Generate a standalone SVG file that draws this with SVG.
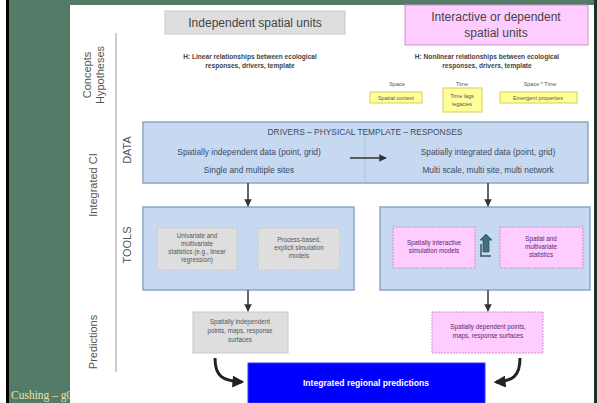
<svg xmlns="http://www.w3.org/2000/svg" width="597" height="403" viewBox="0 0 597 403">
<defs>
<marker id="ah" viewBox="0 0 10 10" refX="9" refY="5" markerWidth="5" markerHeight="5" orient="auto-start-reverse"><path d="M0,0 L10,5 L0,10 z" fill="#333"/></marker>
<marker id="ah2" viewBox="0 0 10 10" refX="8" refY="5" markerWidth="4" markerHeight="4" orient="auto"><path d="M0,0 L10,5 L0,10 z" fill="#222"/></marker>
<style>
text{font-family:"Liberation Sans",Arial,sans-serif;fill:#404040}
.lab{font-size:11px;fill:#555}
.head{font-size:12px;fill:#444}
.hyp{font-size:6.6px;font-weight:bold;fill:#444}
.small{font-size:5.5px;fill:#555}
.data{font-size:8.4px;fill:#3d4a66}
.tool{font-size:6.3px;fill:#555}
.ptool{font-size:6.3px;fill:#5a2a6a}
.blue{fill:#c6d9f1;stroke:#8ca5c6;stroke-width:1.5}
.gray{fill:#dedede;stroke:#c8c8c8;stroke-width:1}
.pink{fill:#ffccff;stroke:#c993c9;stroke-width:1}
.yel{fill:#ffff99;stroke:#d8cc55;stroke-width:1}
.conn{stroke:#333;stroke-width:1.5;fill:none}
</style>
</defs>
<rect width="597" height="403" fill="#537b67"/>
<rect x="0" y="0" width="6" height="403" fill="#ffffff"/>
<rect x="6" y="0" width="3" height="403" fill="#000"/>
<rect x="594" y="0" width="3" height="403" fill="#1e3328"/>
<text x="11" y="399" style="font-family:'Liberation Serif',serif;font-size:11.5px;fill:#e8e2b0">Cushing – g0</text>
<rect x="70" y="5" width="524" height="398" fill="#ffffff"/>

<g id="axis">
<line x1="116" y1="33" x2="116" y2="372" stroke="#999" stroke-width="1"/>
<text class="lab" transform="translate(91,75) rotate(-90)" text-anchor="middle">Concepts</text>
<text class="lab" transform="translate(104,75) rotate(-90)" text-anchor="middle">Hypotheses</text>
<text class="lab" transform="translate(97,185) rotate(-90)" text-anchor="middle">Integrated CI</text>
<text class="lab" transform="translate(131,150) rotate(-90)" text-anchor="middle">DATA</text>
<text class="lab" transform="translate(131,245) rotate(-90)" text-anchor="middle">TOOLS</text>
<text class="lab" transform="translate(97,342) rotate(-90)" text-anchor="middle">Predictions</text>
</g>

<g id="independent">
<rect class="gray" x="165" y="11" width="180" height="23"/>
<text class="head" x="255" y="27" text-anchor="middle">Independent spatial units</text>
</g>
<g id="dependent">
<rect class="pink" x="405" y="5" width="183" height="40"/>
<text class="head" x="496" y="21" text-anchor="middle">Interactive or dependent</text>
<text class="head" x="496" y="37" text-anchor="middle">spatial units</text>
</g>
<g id="hyp-linear">
<text class="hyp" x="250" y="59" text-anchor="middle">H: Linear relationships between ecological</text>
<text class="hyp" x="250" y="68" text-anchor="middle">responses, drivers, template</text>
</g>
<g id="hyp-nonlinear">
<text class="hyp" x="487" y="59" text-anchor="middle">H: Nonlinear relationships between ecological</text>
<text class="hyp" x="487" y="68" text-anchor="middle">responses, drivers, template</text>
</g>
<g id="spatial-context">
<text class="small" x="397" y="86" text-anchor="middle">Space</text>
<rect class="yel" x="370" y="92" width="52" height="11"/>
<text class="small" x="396" y="99.5" text-anchor="middle">Spatial context</text>
</g>
<g id="time-lags">
<text class="small" x="462" y="86" text-anchor="middle">Time</text>
<rect class="yel" x="443" y="88" width="39" height="24"/>
<text class="small" x="462" y="98" text-anchor="middle">Time lags</text>
<text class="small" x="462" y="106" text-anchor="middle">legacies</text>
</g>
<g id="emergent">
<text class="small" x="540" y="86" text-anchor="middle">Space * Time</text>
<rect class="yel" x="500" y="92" width="77" height="11"/>
<text class="small" x="538" y="99.5" text-anchor="middle">Emergent properties</text>
</g>

<g id="data">
<rect class="blue" x="143" y="122" width="445" height="61"/>
<line x1="365" y1="133" x2="365" y2="183" stroke="#a8bcd6" stroke-width="0.8"/>
<text class="data" x="365" y="135" text-anchor="middle">DRIVERS – PHYSICAL TEMPLATE – RESPONSES</text>
<text class="data" x="249" y="155" text-anchor="middle">Spatially independent data (point, grid)</text>
<text class="data" x="249" y="173" text-anchor="middle">Single and multiple sites</text>
<text class="data" x="488" y="155" text-anchor="middle">Spatially integrated data (point, grid)</text>
<text class="data" x="488" y="173" text-anchor="middle">Multi scale, multi site, multi network</text>
</g>

<g id="tools-left">
<rect class="blue" x="143" y="207" width="211" height="83"/>
<rect class="gray" x="157" y="228" width="80" height="42" stroke-dasharray="2,1"/>
<text class="tool" x="197" y="238" text-anchor="middle">Univariate and</text>
<text class="tool" x="197" y="246" text-anchor="middle">multivariate</text>
<text class="tool" x="197" y="254" text-anchor="middle">statistics (e.g., linear</text>
<text class="tool" x="197" y="262" text-anchor="middle">regression)</text>
<rect class="gray" x="258" y="228" width="82" height="42" stroke-dasharray="2,1"/>
<text class="tool" x="299" y="242" text-anchor="middle">Process-based,</text>
<text class="tool" x="299" y="250" text-anchor="middle">explicit simulation</text>
<text class="tool" x="299" y="258" text-anchor="middle">models</text>
</g>

<g id="tools-right">
<rect class="blue" x="380" y="207" width="210" height="83"/>
<rect class="pink" x="393" y="227" width="82" height="41" stroke-dasharray="2,1"/>
<text class="ptool" x="434" y="245" text-anchor="middle">Spatially interactive</text>
<text class="ptool" x="434" y="253" text-anchor="middle">simulation models</text>
<rect class="pink" x="500" y="227" width="83" height="41" stroke-dasharray="2,1"/>
<text class="ptool" x="541" y="241" text-anchor="middle">Spatial and</text>
<text class="ptool" x="541" y="249" text-anchor="middle">multivariate</text>
<text class="ptool" x="541" y="257" text-anchor="middle">statistics</text>
<g id="cycle" fill="none" stroke="#2f5a66" stroke-width="2">
<path d="M483,252 L483,240 L480,240 L486,234 L492,240 L489,240 L489,252 Z" fill="#3e6f7a" stroke="#2f5a66" stroke-width="0.8"/>
<path d="M481,244 L481,256 L491,256" stroke-width="1.5"/>
</g>
</g>

<g id="pred-left">
<rect class="gray" x="193" y="312" width="95" height="41"/>
<text class="tool" x="240" y="324" text-anchor="middle">Spatially independent</text>
<text class="tool" x="240" y="333" text-anchor="middle">points, maps, response</text>
<text class="tool" x="240" y="342" text-anchor="middle">surfaces</text>
</g>
<g id="pred-right">
<rect class="pink" x="432" y="312" width="111" height="41" stroke-dasharray="2,1"/>
<text class="ptool" x="488" y="329" text-anchor="middle">Spatially dependent points,</text>
<text class="ptool" x="488" y="338" text-anchor="middle">maps, response surfaces</text>
</g>
<g id="integrated">
<rect x="248" y="363" width="237" height="40" fill="#0000ff" stroke="#3a3af0" stroke-width="1"/>
<text x="366" y="386" text-anchor="middle" style="font-size:8.6px;font-weight:bold;fill:#ffffff">Integrated regional predictions</text>
</g>

<g id="connectors">
<line class="conn" x1="366" y1="158" x2="386" y2="158" marker-end="url(#ah)" stroke="#666" stroke-width="1"/>
<line class="conn" x1="350" y1="158" x2="366" y2="158" stroke="#666" stroke-width="1"/>
<line class="conn" x1="248" y1="183" x2="248" y2="206" marker-end="url(#ah)"/>
<line class="conn" x1="488" y1="183" x2="488" y2="206" marker-end="url(#ah)"/>
<line class="conn" x1="248" y1="290" x2="248" y2="311" marker-end="url(#ah)"/>
<line class="conn" x1="488" y1="290" x2="488" y2="311" marker-end="url(#ah)"/>
<path d="M215,358 C215,376 222,381 242,382" stroke="#222" stroke-width="3" fill="none" marker-end="url(#ah2)"/>
<path d="M520,358 C520,376 513,381 496,382" stroke="#222" stroke-width="3" fill="none" marker-end="url(#ah2)"/>
</g>
</svg>
